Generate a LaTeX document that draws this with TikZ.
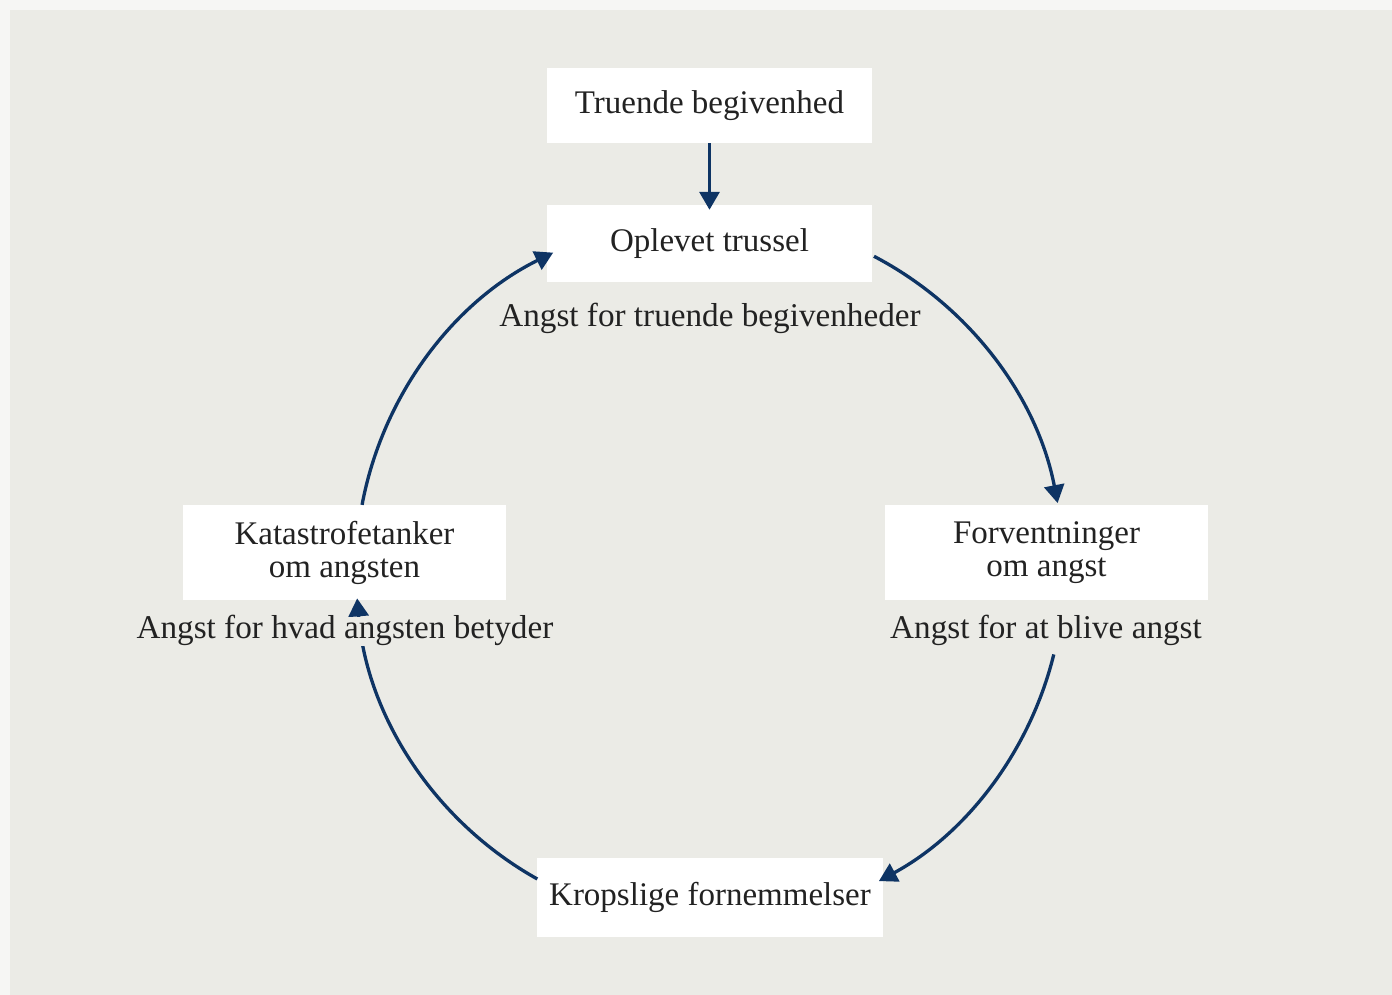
\documentclass[tikz,border=0pt]{standalone}
\usepackage{fontspec}
\setmainfont{Liberation Serif}
\usetikzlibrary{arrows.meta,calc}
\definecolor{bgpaper}{RGB}{235,235,230}
\definecolor{edgepaper}{RGB}{246,246,244}
\definecolor{navy}{RGB}{14,52,100}
\definecolor{ink}{RGB}{34,34,34}
\tikzset{
  box/.style={fill=white,draw=none,inner sep=0pt,align=center,text=ink,
    font=\fontsize{33}{35}\selectfont},
  caption/.style={fill=bgpaper,anchor=base,inner xsep=2pt,inner ysep=0pt,
    text height=22pt,text depth=7pt,text=ink,
    font=\fontsize{33.2}{35}\selectfont},
  flow/.style={draw=navy,line width=3.3pt,
    -{Triangle[width=20pt,length=18pt]}}
}
\begin{document}
\begin{tikzpicture}[x=1pt,y=1pt]
  % paper
  \fill[edgepaper] (0,0) rectangle (1392,995);
  \fill[bgpaper] (10,0) rectangle (1392,985);
  \useasboundingbox (0,0) rectangle (1392,995);

  % boxes
  \node[box,minimum width=325pt,minimum height=75pt] (event) at (709.5,889.5) {Truende begivenhed};
  \node[box,minimum width=325pt,minimum height=77pt] (threat) at (709.5,751.5) {Oplevet trussel};
  \node[box,minimum width=323pt,minimum height=95pt] (expect) at (1046.5,442.5) {Forventninger\\[-2pt]om angst};
  \node[box,minimum width=323pt,minimum height=95pt] (catast) at (344.5,442.5) {Katastrofetanker\\[-2pt]om angsten};
  \node[box,minimum width=346pt,minimum height=79pt] (body) at (710,97.5) {Kropslige fornemmelser};

  % cycle
  \coordinate (o) at (710,425);
  \def\rad{354}
  \coordinate (a1) at ($(o)+(62.4:\rad)$);
  \coordinate (a2) at ($(o)+(-13.8:\rad)$);
  \coordinate (a3) at ($(o)+(240.8:\rad)$);
  \coordinate (a4) at ($(o)+(169.4:\rad)$);

  \draw[flow] (event.south) -- ([yshift=-5pt]threat.north);
  \draw[flow] (a1) arc[start angle=62.4,end angle=10.9,radius=\rad];
  \draw[flow] (a2) arc[start angle=-13.8,end angle=-61.5,radius=\rad];
  \draw[flow] (a3) arc[start angle=240.8,end angle=184.6,radius=\rad];
  \draw[flow] (a4) arc[start angle=169.4,end angle=116.3,radius=\rad];

  % captions, laid over the cycle
  \node[caption] (c1) at (710,668) {Angst for truende begivenheder};
  \node[caption] (c2) at (1046,356) {Angst for at blive angst};
  \node[caption] (c3) at (345,356) {Angst for hvad angsten betyder};
\end{tikzpicture}
\end{document}
